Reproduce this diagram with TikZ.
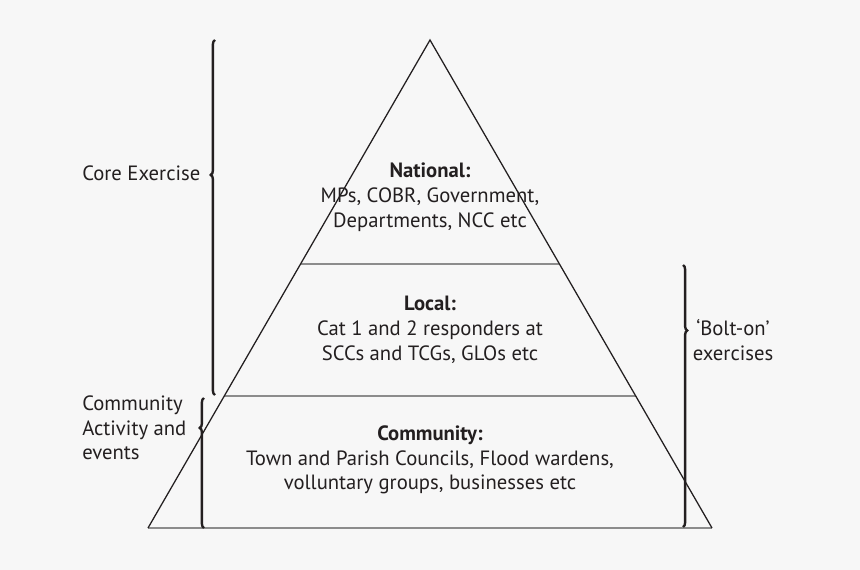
\documentclass[tikz,border=0pt]{standalone}
\usepackage{fontspec}
\setmainfont{PT Sans}
\usetikzlibrary{decorations.pathreplacing,positioning}
\definecolor{Ink}{HTML}{231F20}
\definecolor{Rule}{HTML}{8C8C8C}
\definecolor{Paper}{HTML}{F7F7F7}
\tikzset{
tiertext/.style={align=center, text=Ink, inner sep=0pt, font=\fontsize{14.7}{17.6}\selectfont},
sidetext/.style={align=left, text=Ink, inner sep=0pt, font=\fontsize{14.7}{17.6}\selectfont},
pyrside/.style={draw=Ink, line width=0.9pt, line join=miter},
pyrrule/.style={draw=Rule, line width=1.1pt},
bracket/.style={draw=Ink, line width=1.7pt, decorate, decoration={brace, amplitude=3pt, aspect=#1}}
}
\begin{document}
\begin{tikzpicture}[x=0.025cm, y=-0.025cm]
  \fill[Paper] (0,0) rectangle (860,570);
  \useasboundingbox (0,0) rectangle (860,570);
  % pyramid corners and tier edges
  \coordinate (apex) at (430,40);
  \coordinate (baseL) at (148,528);
  \coordinate (baseR) at (712,528);
  \coordinate (midL) at (300.6,264);
  \coordinate (midR) at (559.4,264);
  \coordinate (lowL) at (224.3,396);
  \coordinate (lowR) at (635.7,396);
  \draw[pyrrule] (baseL) -- (baseR);
  \draw[pyrrule] (midL) -- (midR);
  \draw[pyrrule] (lowL) -- (lowR);
  \draw[pyrside] (baseL) -- (apex) -- (baseR);
  % tier labels
  \node[tiertext] (national) at (430,197) {\textbf{National:}\\MPs, COBR, Government,\\Departments, NCC etc};
  \node[tiertext] (local) at (430,330) {\textbf{Local:}\\Cat 1 and 2 responders at\\SCCs and TCGs, GLOs etc};
  \node[tiertext] (community) at (430,460) {\textbf{Community:}\\Town and Parish Councils, Flood wardens,\\volluntary groups, businesses etc};
  % side labels
  \node[sidetext, anchor=west] (core) at (82,173) {Core Exercise};
  \node[sidetext, anchor=west] (activity) at (82,428) {Community\\Activity and\\events};
  \node[tiertext] (bolton) at (733,340) {‘Bolt-on’\\exercises};
  % braces
  \coordinate (coreTop) at (215,40);
  \coordinate (coreBot) at (215,395);
  \coordinate (actTop) at (204,398);
  \coordinate (actBot) at (204,528);
  \coordinate (boltTop) at (683,265);
  \coordinate (boltBot) at (683,527);
  \draw[bracket=0.62] (coreBot) -- (coreTop);
  \draw[bracket=0.77] (actBot) -- (actTop);
  \draw[bracket=0.25] (boltTop) -- (boltBot);
\end{tikzpicture}
\end{document}
